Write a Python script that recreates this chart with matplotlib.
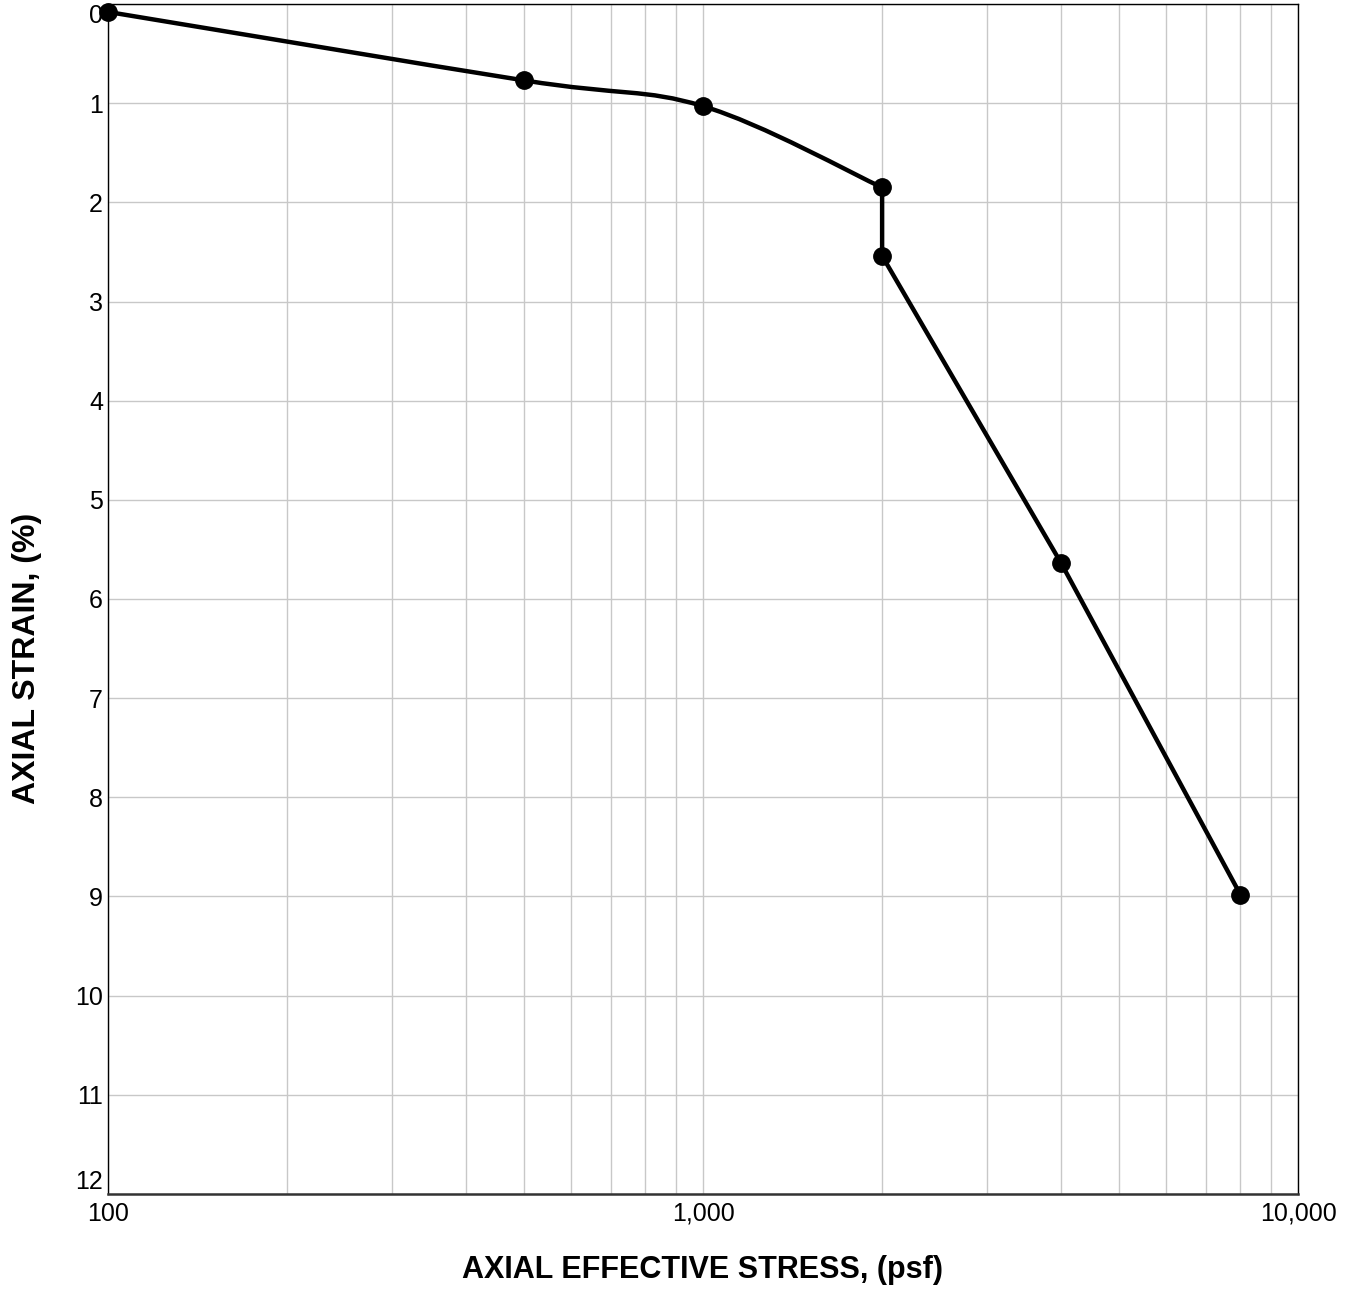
import numpy as np
import matplotlib
matplotlib.use("Agg")
import matplotlib.pyplot as plt
from matplotlib.path import Path
from matplotlib.patches import PathPatch
from matplotlib.ticker import FixedLocator, LogLocator, NullFormatter

plt.rcParams['font.family'] = ['Liberation Sans', 'DejaVu Sans']

# consolidation readings
stress = [100, 500, 1000, 2000, 2000, 4000, 8000]   # psf
strain = [0.08, 0.77, 1.03, 1.85, 2.54, 5.64, 8.98]  # %
n_smooth = 4  # first loading branch is drawn as a smooth curve

x_ticks = [100, 1000, 10000]
x_ticklabels = ['100', '1,000', '10,000']
y_ticks = list(range(0, 13))

W, H = 1357, 1291
fig = plt.figure(figsize=(W / 100, H / 100), dpi=100)
ax = fig.add_axes([108 / W, 1 - 1194 / H, (1298 - 108) / W, (1194 - 4) / H])

ax.set_xscale('log')
ax.set_xlim(100, 10000)
ax.set_ylim(12, 0)


def build_path(xs, ys, n_curve, aspect):
    # catmull-rom through the first n_curve points (in log-x space), straight after
    u = np.log10(xs)
    v = np.asarray(ys) * aspect
    pts = np.column_stack([u, v])
    verts = [pts[0]]
    codes = [Path.MOVETO]
    for i in range(n_curve - 1):
        p0 = pts[max(i - 1, 0)]
        p1 = pts[i]
        p2 = pts[i + 1]
        p3 = pts[min(i + 2, n_curve - 1)]
        c1 = p1 + (p2 - p0) / 6.0
        c2 = p2 - (p3 - p1) / 6.0
        verts += [c1, c2, p2]
        codes += [Path.CURVE4] * 3
    for i in range(n_curve, len(pts)):
        verts.append(pts[i])
        codes.append(Path.LINETO)
    verts = np.array(verts)
    verts = np.column_stack([10 ** verts[:, 0], verts[:, 1] / aspect])
    return Path(verts, codes)


curve = build_path(stress, strain, n_smooth, 99.3 / 595)
ax.add_patch(PathPatch(curve, facecolor='none', edgecolor='black', lw=3.2,
                       joinstyle='round', capstyle='round', zorder=3))
ax.plot(stress, strain, ls='none', marker='o', ms=12.5, color='black',
        zorder=4, clip_on=False)

ax.xaxis.set_major_locator(FixedLocator(x_ticks))
ax.set_xticklabels(x_ticklabels)
ax.xaxis.set_minor_locator(LogLocator(base=10, subs=np.arange(2, 10)))
ax.xaxis.set_minor_formatter(NullFormatter())
ax.set_yticks(y_ticks)

ax.tick_params(axis='both', which='both', length=0, labelsize=18)
ax.tick_params(axis='x', pad=5.5)
ax.tick_params(axis='y', pad=3.6)

# first / last y labels are kept inside the plot range
ylabels = ax.get_yticklabels()
ylabels[0].set_verticalalignment('top')
ylabels[-1].set_verticalalignment('bottom')

ax.grid(True, which='major', axis='both', color='#c8c8c8', lw=1.0)
ax.grid(True, which='minor', axis='x', color='#c8c8c8', lw=1.0)
ax.set_axisbelow(True)

for side in ['left', 'right', 'top']:
    ax.spines[side].set_linewidth(1.0)
ax.spines['bottom'].set_linewidth(1.8)
ax.spines['bottom'].set_color('#333333')

fig.text(703 / W, 1 - 1270 / H, 'AXIAL EFFECTIVE STRESS, (psf)', ha='center',
         va='center', fontsize=22, fontweight='bold')
fig.text(27 / W, 1 - 658 / H, 'AXIAL STRAIN, (%)', ha='center', va='center',
         rotation=90, fontsize=23, fontweight='bold')

fig.savefig('out.png', dpi=100)
